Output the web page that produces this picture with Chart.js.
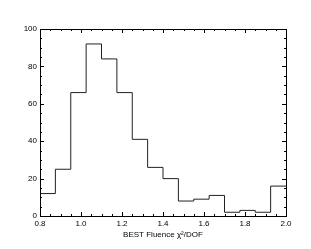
<!DOCTYPE html>
<html>
<head>
<meta charset="utf-8">
<script src="https://cdn.jsdelivr.net/npm/chart.js@4/dist/chart.umd.min.js"></script>
<style>
  body { margin: 0; background: #fff; }
  #wrap { width: 311px; height: 249px; }
</style>
</head>
<body>
<div id="wrap"><canvas id="histChart" width="311" height="249"></canvas></div>
<script>
// bin edges and counts
const binEdges = [0.8, 0.875, 0.95, 1.025, 1.1, 1.175, 1.25, 1.325, 1.4, 1.475, 1.55, 1.625, 1.7, 1.775, 1.85, 1.925, 2.0];
const counts = [12, 25, 66, 92, 84, 66, 41, 26, 20, 8, 9, 11, 2, 3, 2, 16];
const xTitle = "BEST Fluence \u03c7\u00b2/DOF";

const fontSpec = { family: "'Liberation Sans', Arial, sans-serif", size: 8 };

// step line: each count holds until the next edge, last one runs to 2.0
const points = binEdges.map((edge, i) => ({ x: edge, y: counts[Math.min(i, counts.length - 1)] }));

// frame + inward ticks on all four sides (IDL style)
const frameTicks = {
    id: "frameTicks",
    afterDraw(chart) {
        const { ctx, chartArea: a, scales } = chart;
        const xs = scales.x, ys = scales.y;
        ctx.save();
        ctx.strokeStyle = "#000";
        ctx.lineWidth = 1;
        ctx.strokeRect(Math.round(a.left) + 0.5, Math.round(a.top) + 0.5,
            Math.round(a.right - a.left), Math.round(a.bottom - a.top));
        ctx.beginPath();
        for (let v = 0.8; v <= 2.0001; v += 0.05) {
            const px = Math.round(xs.getPixelForValue(v)) + 0.5;
            const major = Math.abs(v * 5 - Math.round(v * 5)) < 1e-6;
            const len = major ? 4 : 2;
            ctx.moveTo(px, a.bottom); ctx.lineTo(px, a.bottom - len);
            ctx.moveTo(px, a.top); ctx.lineTo(px, a.top + len);
        }
        for (let v = 0; v <= 100; v += 5) {
            const py = Math.round(ys.getPixelForValue(v)) + 0.5;
            const len = v % 20 === 0 ? 4 : 2;
            ctx.moveTo(a.left, py); ctx.lineTo(a.left + len, py);
            ctx.moveTo(a.right, py); ctx.lineTo(a.right - len, py);
        }
        ctx.stroke();
        ctx.restore();
    }
};

new Chart(document.getElementById("histChart").getContext("2d"), {
    type: "line",
    data: {
        datasets: [{
            data: points,
            stepped: "before",
            borderColor: "#222",
            borderWidth: 1,
            pointRadius: 0,
            fill: false
        }]
    },
    options: {
        responsive: false,
        animation: false,
        layout: { padding: { top: 29, right: 25, left: 0, bottom: 9 } },
        plugins: { legend: { display: false }, tooltip: { enabled: false } },
        scales: {
            x: {
                type: "linear",
                min: 0.8,
                max: 2.0,
                grid: { display: false, drawTicks: false },
                border: { display: false },
                ticks: {
                    stepSize: 0.2,
                    padding: 3,
                    color: "#000",
                    font: fontSpec,
                    maxRotation: 0,
                    callback: v => v.toFixed(1)
                },
                title: { display: true, text: xTitle, color: "#000", font: fontSpec, padding: { top: 1, bottom: 0 } },
                afterFit: s => { s.height = 24; }
            },
            y: {
                min: 0,
                max: 100,
                grid: { display: false, drawTicks: false },
                border: { display: false },
                ticks: { stepSize: 20, padding: 3, color: "#000", font: fontSpec },
                afterFit: s => { s.width = 40; }
            }
        }
    },
    plugins: [frameTicks]
});
</script>
</body>
</html>
